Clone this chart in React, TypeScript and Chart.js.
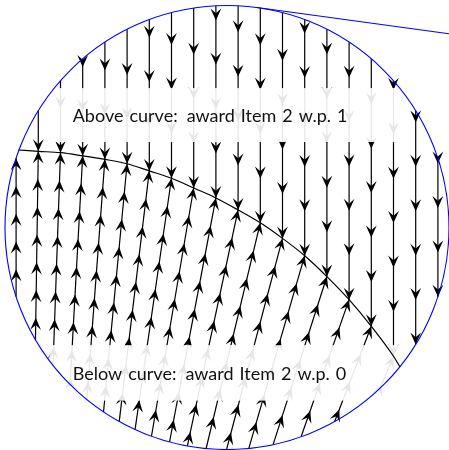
import { useEffect, useRef } from "react";
import { Chart, registerables } from "chart.js";

Chart.register(...registerables);

// Flow grid columns, in the unit-disk frame (disk centred at the origin)
const COLUMN_X = [
  -0.95, -0.85, -0.75, -0.65, -0.55, -0.45, -0.35, -0.25, -0.15, -0.05,
  0.05, 0.15, 0.25, 0.35, 0.45, 0.55, 0.65, 0.75, 0.85, 0.95,
];

// Boundary curve between the two allocation regions (ends lie on the disk edge)
const CURVE_X = [
  -0.941, -0.85, -0.75, -0.65, -0.55, -0.45, -0.35, -0.25, -0.15, -0.05,
  0.05, 0.15, 0.25, 0.35, 0.45, 0.55, 0.65, 0.75, 0.779,
];
const CURVE_Y = [
  0.349, 0.343, 0.337, 0.323, 0.307, 0.287, 0.255, 0.222, 0.178, 0.133,
  0.079, 0.021, -0.049, -0.127, -0.221, -0.325, -0.445, -0.58, -0.628,
];

// Horizontal drift per unit rise of the upward flow lines below the curve (per column)
const LOWER_TILT = [
  0, 0.015, 0.035, 0.055, 0.075, 0.095, 0.12, 0.145, 0.17, 0.19,
  0.215, 0.24, 0.265, 0.29, 0.32, 0.35, 0.385, 0.42,
];

// Spacing of arrow heads along the flow lines
const ARROW_STEP_ABOVE = 0.2;
const ARROW_STEP_BELOW = 0.125;

// Support line touching the disk near its top
const TANGENT_X = [0.135, 1.0];
const TANGENT_Y = [0.991, 0.873];

const DISK_RADIUS = 1;

// Region annotations
const LABELS = ["Above curve: award Item 2 w.p. 1", "Below curve: award Item 2 w.p. 0"];
const LABEL_BOX_X = [-0.8, 0.8];
const LABEL_BOX_Y = [
  [0.385, 0.628],
  [-0.78, -0.53],
];
const LABEL_TEXT_X = -0.695;
const LABEL_BASELINE_Y = [0.477, -0.686];

const X_RANGE = [-1.0225, 1.0];
const Y_RANGE = [-1.0023, 1.0248];

function diskTop(x: number) {
  return Math.sqrt(Math.max(0, DISK_RADIUS * DISK_RADIUS - x * x));
}

function curveAt(x: number): number | null {
  for (let j = 0; j < CURVE_X.length; j++) {
    if (Math.abs(CURVE_X[j] - x) < 1e-9) return CURVE_Y[j];
  }
  return null;
}

function drawHead(ctx: CanvasRenderingContext2D, tx: number, ty: number, ux: number, uy: number) {
  const L = 12;
  const W = 5.4;
  const nx = -uy;
  const ny = ux;
  ctx.beginPath();
  ctx.moveTo(tx, ty);
  ctx.lineTo(tx - L * ux + W * nx, ty - L * uy + W * ny);
  ctx.lineTo(tx - 0.6 * L * ux, ty - 0.6 * L * uy);
  ctx.lineTo(tx - L * ux - W * nx, ty - L * uy - W * ny);
  ctx.closePath();
  ctx.fill();
}

// Draws a label with TeX-like word spacing
function drawLabel(ctx: CanvasRenderingContext2D, text: string, x: number, y: number) {
  const space = 6;
  let cursor = x;
  text.split(" ").forEach((word) => {
    ctx.fillText(word, cursor, y);
    cursor += ctx.measureText(word).width + (word.endsWith(":") ? space + 3 : space);
  });
}

const flowPlugin = {
  id: "flowField",
  beforeDatasetsDraw(chart: any) {
    const ctx: CanvasRenderingContext2D = chart.ctx;
    const xs = chart.scales.x;
    const ys = chart.scales.y;
    const px = (v: number) => xs.getPixelForValue(v);
    const py = (v: number) => ys.getPixelForValue(v);
    const curveStart = CURVE_X[0];
    const curveEnd = CURVE_X[CURVE_X.length - 1];

    ctx.save();
    ctx.strokeStyle = "#000";
    ctx.fillStyle = "#000";
    ctx.lineWidth = 1.2;

    COLUMN_X.forEach((x, i) => {
      const top = diskTop(x);
      const cy = curveAt(x);

      // downward flow above the curve
      if (x >= curveStart) {
        const bottom = cy !== null ? cy : -top;
        ctx.beginPath();
        ctx.moveTo(px(x), py(top));
        ctx.lineTo(px(x), py(bottom));
        ctx.stroke();
        for (let k = 0; ; k++) {
          const tip = bottom + k * ARROW_STEP_ABOVE;
          if (tip > top - 0.02) break;
          drawHead(ctx, px(x), py(tip), 0, 1);
        }
      }

      // upward flow below the curve
      if (x <= curveEnd && i < LOWER_TILT.length) {
        const ex = x;
        const ey = cy !== null ? Math.min(cy, top) : top;
        const tilt = LOWER_TILT[i];
        const n = Math.hypot(tilt, 1);
        const dx = -tilt / n;
        const dy = -1 / n;
        const b = ex * dx + ey * dy;
        const c = ex * ex + ey * ey - DISK_RADIUS * DISK_RADIUS;
        const len = -b + Math.sqrt(Math.max(0, b * b - c));
        ctx.beginPath();
        ctx.moveTo(px(ex), py(ey));
        ctx.lineTo(px(ex + len * dx), py(ey + len * dy));
        ctx.stroke();
        const step = ARROW_STEP_BELOW * n;
        const ux0 = px(ex) - px(ex + dx);
        const uy0 = py(ey) - py(ey + dy);
        const un = Math.hypot(ux0, uy0);
        for (let k = 0; ; k++) {
          const s = k * step;
          if (s > len - 0.02) break;
          drawHead(ctx, px(ex + s * dx), py(ey + s * dy), ux0 / un, uy0 / un);
        }
      }
    });

    // translucent label panels
    LABELS.forEach((text, j) => {
      const [y0, y1] = LABEL_BOX_Y[j];
      const left = px(LABEL_BOX_X[0]);
      const right = px(LABEL_BOX_X[1]);
      const t = py(y1);
      const b = py(y0);
      ctx.fillStyle = "rgba(255,255,255,0.9)";
      ctx.fillRect(left, t, right - left, b - t);
      ctx.fillStyle = "#111";
      ctx.font = "18px Lato";
      ctx.textAlign = "left";
      ctx.textBaseline = "alphabetic";
      drawLabel(ctx, text, px(LABEL_TEXT_X), py(LABEL_BASELINE_Y[j]));
    });
    ctx.restore();
  },
  afterDatasetsDraw(chart: any) {
    const ctx: CanvasRenderingContext2D = chart.ctx;
    const xs = chart.scales.x;
    const ys = chart.scales.y;
    const cx = xs.getPixelForValue(0);
    const cy = ys.getPixelForValue(0);
    const r = xs.getPixelForValue(DISK_RADIUS) - cx;
    ctx.save();
    ctx.strokeStyle = "#0000ff";
    ctx.lineWidth = 1.1;
    ctx.beginPath();
    ctx.arc(cx, cy, r, 0, Math.PI * 2);
    ctx.stroke();
    ctx.restore();
  },
};

export default function App() {
  const canvasRef = useRef<HTMLCanvasElement | null>(null);

  useEffect(() => {
    if (!canvasRef.current) return;
    const chart = new Chart(canvasRef.current, {
      type: "scatter",
      data: {
        datasets: [
          {
            data: CURVE_X.map((x, i) => ({ x, y: CURVE_Y[i] })),
            showLine: true,
            borderColor: "#000",
            borderWidth: 1.2,
            pointRadius: 0,
            cubicInterpolationMode: "monotone",
          },
          {
            data: TANGENT_X.map((x, i) => ({ x, y: TANGENT_Y[i] })),
            showLine: true,
            borderColor: "#0000ff",
            borderWidth: 1.1,
            pointRadius: 0,
          },
        ],
      },
      options: {
        animation: false,
        responsive: false,
        events: [],
        layout: { padding: 0 },
        plugins: { legend: { display: false }, tooltip: { enabled: false } },
        scales: {
          x: { type: "linear", min: X_RANGE[0], max: X_RANGE[1], display: false },
          y: { type: "linear", min: Y_RANGE[0], max: Y_RANGE[1], display: false },
        },
      } as any,
      plugins: [flowPlugin],
    });
    return () => chart.destroy();
  }, []);

  return (
    <div style={{ position: "absolute", left: 0, top: 0, width: 449, height: 450, background: "#fff" }}>
      <canvas ref={canvasRef} width={449} height={450} style={{ display: "block" }} />
    </div>
  );
}
